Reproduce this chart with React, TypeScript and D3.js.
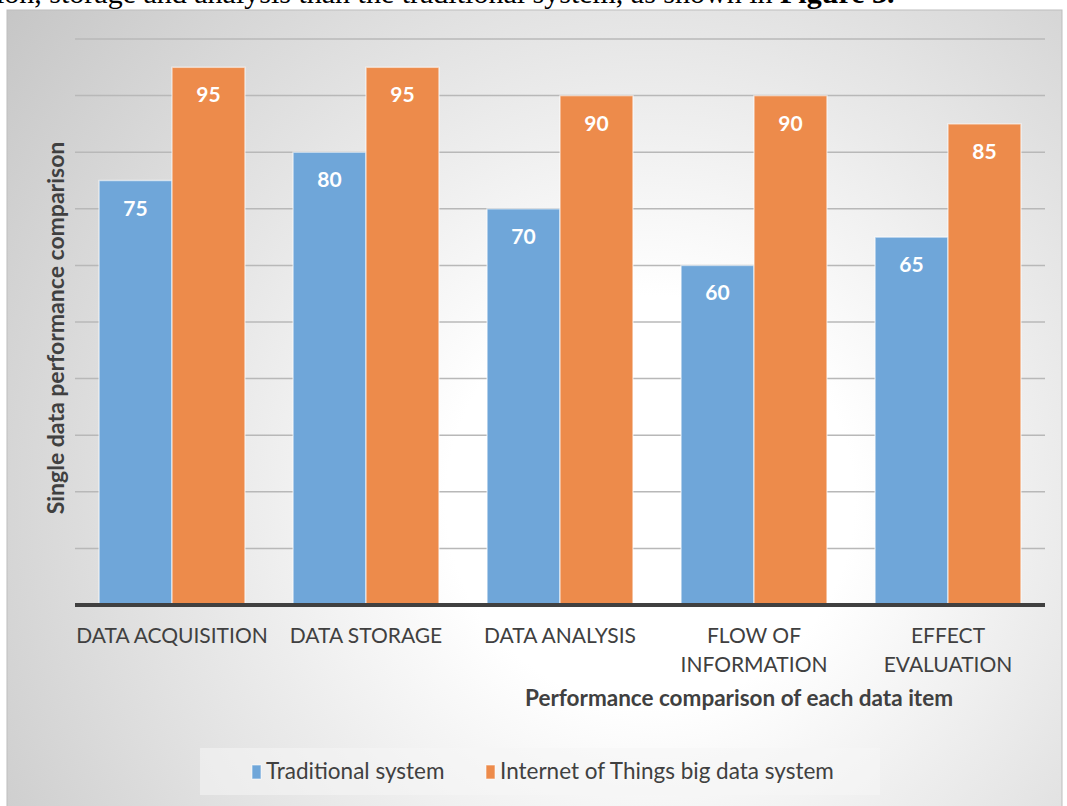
import * as d3 from "d3";

const categories = [
  "DATA ACQUISITION",
  "DATA STORAGE",
  "DATA ANALYSIS",
  "FLOW OF INFORMATION",
  "EFFECT EVALUATION",
];
const categoryLines = [
  ["DATA ACQUISITION"],
  ["DATA STORAGE"],
  ["DATA ANALYSIS"],
  ["FLOW OF", "INFORMATION"],
  ["EFFECT", "EVALUATION"],
];
const seriesNames = ["Traditional system", "Internet of Things big data system"];
const traditional = [75, 80, 70, 60, 65];
const iotBigData = [95, 95, 90, 90, 85];
const gridTicks = [10, 20, 30, 40, 50, 60, 70, 80, 90, 100];

const width = 1067;
const height = 806;
const font = "Lato, 'Open Sans', sans-serif";
const blue = "#6fa6d9";
const orange = "#ed8b4b";

export default function App() {
  const x0 = d3.scaleBand<string>().domain(categories).range([75, 1045]).paddingInner(0.248).paddingOuter(0.124);
  const x1 = d3.scaleBand<number>().domain([0, 1]).range([0, x0.bandwidth()]);
  const y = d3.scaleLinear().domain([0, 100]).range([605, 39]);
  const series = [traditional, iotBigData];
  const colors = [blue, orange];

  return (
    <svg
      width={width}
      height={height}
      style={{ position: "absolute", left: 0, top: 0, fontFamily: font }}
    >
      <defs>
        <radialGradient id="bg" gradientUnits="userSpaceOnUse" cx={650} cy={500} r={850}>
          <stop offset="0.24" stopColor="#ffffff" />
          <stop offset="1" stopColor="#c2c2c2" />
        </radialGradient>
      </defs>
      <rect width={width} height={height} fill="#ffffff" />
      <text x={-4} y={3} fontFamily="'Liberation Serif', serif" fontSize={30} fill="#000">
        ion, storage and analysis than the traditional system, as shown in <tspan fontWeight="bold">Figure 3.</tspan>
      </text>
      <rect x={7} y={10} width={1055} height={800} fill="url(#bg)" stroke="#bdbdbd" strokeWidth={1} />

      {gridTicks.map((t) => (
        <line key={t} x1={75} x2={1045} y1={y(t)} y2={y(t)} stroke="#b8b8b8" strokeWidth={1.5} />
      ))}

      {categories.map((c, i) => (
        <g key={c} transform={`translate(${x0(c)},0)`}>
          {series.map((s, j) => (
            <g key={j}>
              <rect
                x={x1(j)}
                y={y(s[i])}
                width={x1.bandwidth()}
                height={y(0) - y(s[i])}
                fill={colors[j]}
                stroke="rgba(255,255,255,0.55)"
                strokeWidth={1.5}
              />
              <text
                x={(x1(j) ?? 0) + x1.bandwidth() / 2}
                y={y(s[i]) + 35}
                textAnchor="middle"
                fill="#ffffff"
                fontWeight="bold"
                fontSize={21}
              >
                {s[i]}
              </text>
            </g>
          ))}
        </g>
      ))}

      <line x1={75} x2={1045} y1={y(0)} y2={y(0)} stroke="#404040" strokeWidth={4} />

      {categories.map((c, i) => (
        <text
          key={c}
          x={(x0(c) ?? 0) + x0.bandwidth() / 2}
          y={643}
          textAnchor="middle"
          fill="#404040"
          fontSize={21}
        >
          {categoryLines[i].map((line, k) => (
            <tspan key={k} x={(x0(c) ?? 0) + x0.bandwidth() / 2} dy={k === 0 ? 0 : 29}>
              {line}
            </tspan>
          ))}
        </text>
      ))}

      <text x={739} y={706} textAnchor="middle" fill="#404040" fontWeight="bold" fontSize={22.5}>
        Performance comparison of each data item
      </text>
      <text
        transform="translate(64,328) rotate(-90)"
        textAnchor="middle"
        fill="#404040"
        fontWeight="bold"
        fontSize={23}
      >
        Single data performance comparison
      </text>

      <rect x={200} y={748} width={680} height={47} fill="rgba(245,245,245,0.55)" />
      <rect x={252} y={765} width={9} height={14} fill={blue} stroke="rgba(255,255,255,0.6)" strokeWidth={1} />
      <text x={266} y={779} fill="#404040" fontSize={22.5}>{seriesNames[0]}</text>
      <rect x={486} y={765} width={9} height={14} fill={orange} stroke="rgba(255,255,255,0.6)" strokeWidth={1} />
      <text x={500} y={779} fill="#404040" fontSize={22.5}>{seriesNames[1]}</text>
    </svg>
  );
}
